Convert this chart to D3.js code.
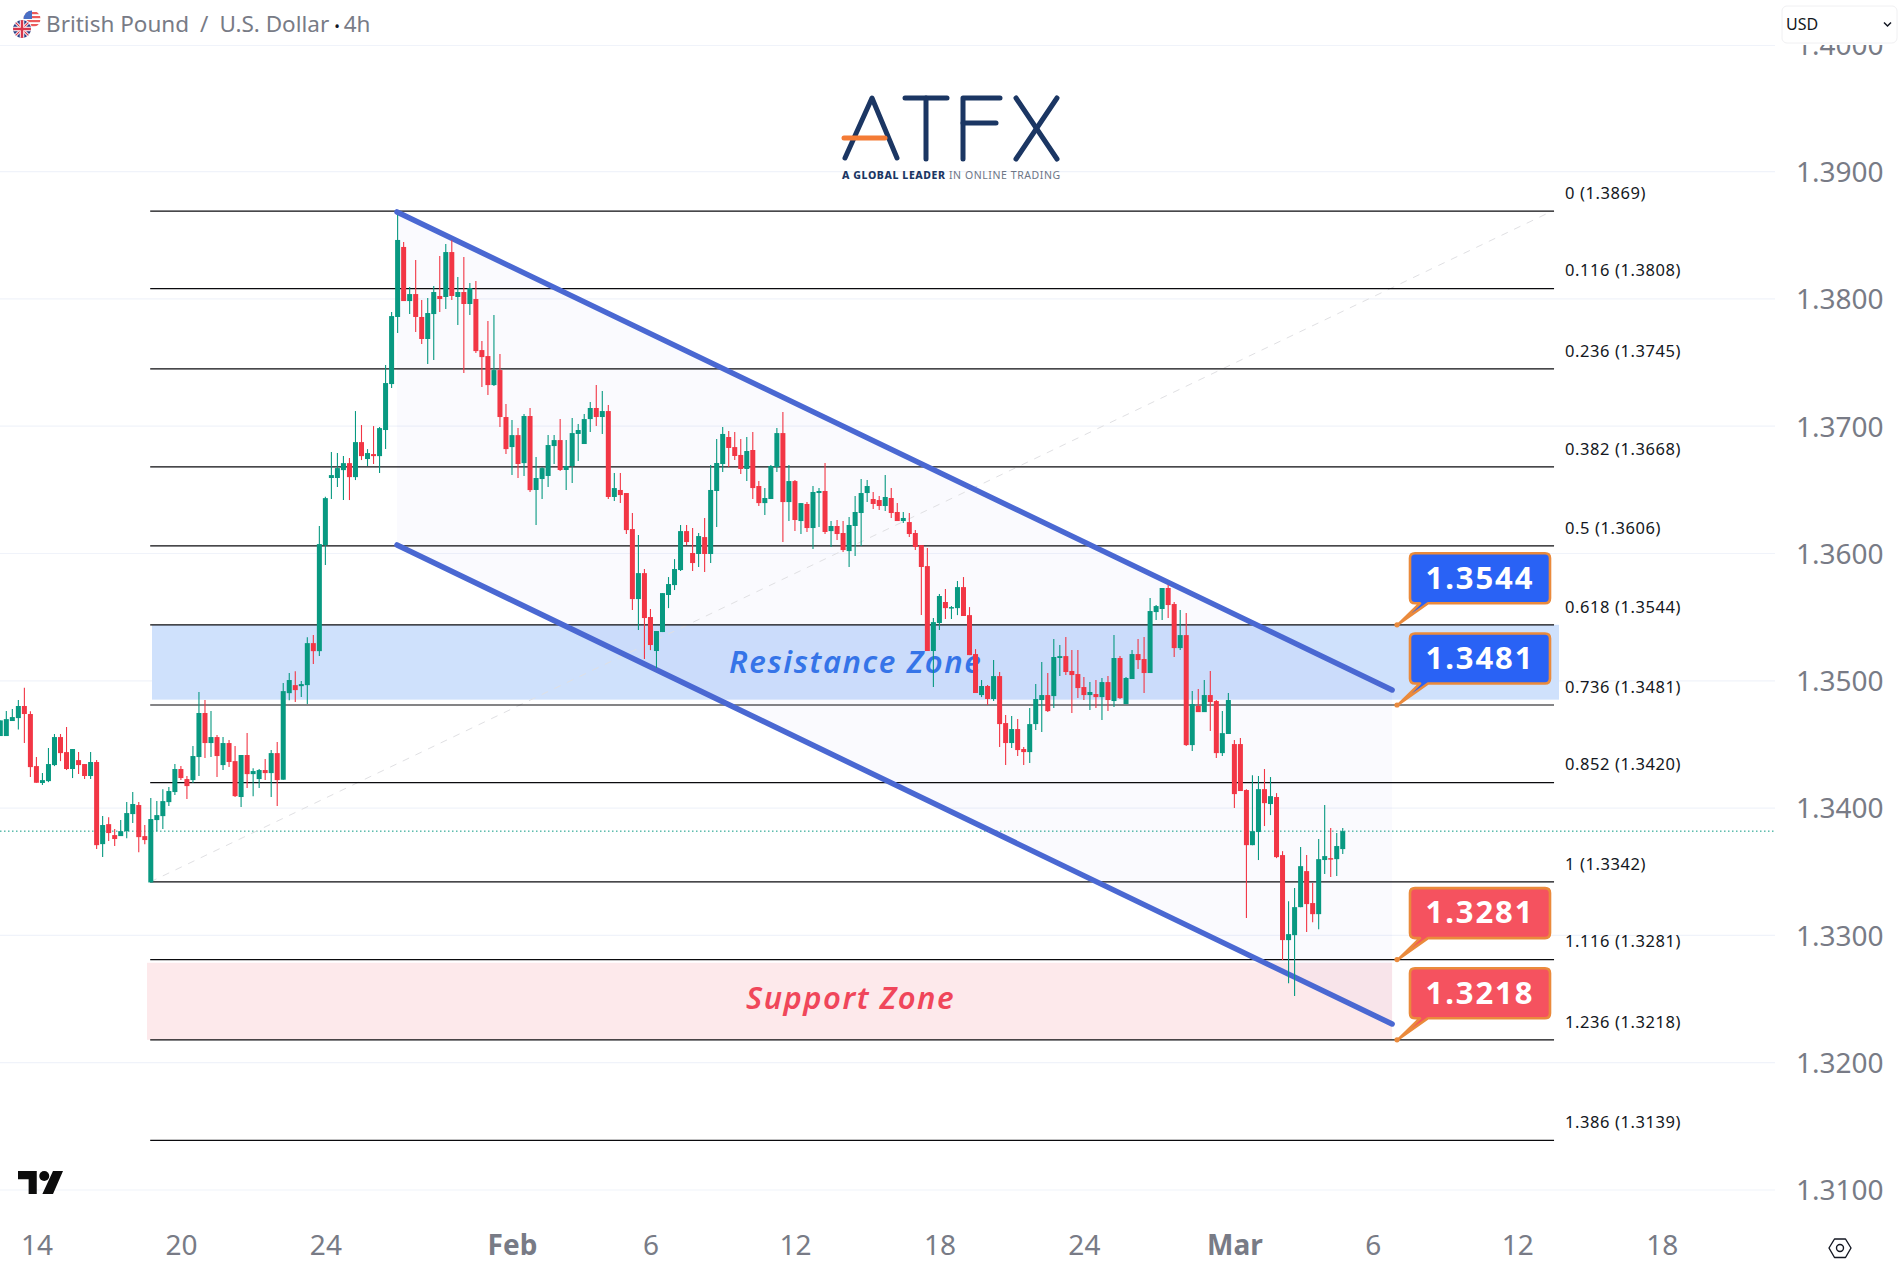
<!DOCTYPE html>
<html><head><meta charset="utf-8">
<style>html,body{margin:0;padding:0;background:#fff;overflow:hidden}svg{display:block}text{font-family:"Noto Sans",sans-serif}</style>
<script src="https://cdn.jsdelivr.net/npm/d3@7"></script>
</head><body>
<script>
const titleParts = ["British Pound","/","U.S. Dollar"];
const interval = "4h";
const opens = [
1.34566,1.34566,1.34684,1.34707,1.34802,1.34739,1.34330,1.34197,1.34212,1.34338,
1.34558,1.34440,1.34307,1.34377,1.34346,1.34252,1.34362,1.33717,1.33874,1.33788,
1.33780,1.33819,1.33953,1.34024,1.33780,1.33416,1.33906,1.33937,1.34047,1.34126,
1.34307,1.34228,1.34220,1.34401,1.34747,1.34511,1.34558,1.34338,1.34511,1.34369,
1.34087,1.34417,1.34267,1.34228,1.34299,1.34275,1.34432,1.34223,1.34903,1.34966,
1.34958,1.34966,1.35296,1.35233,1.36066,1.36593,1.36593,1.36655,1.36710,1.36600,
1.36875,1.36742,1.36781,1.36765,1.36970,1.37331,1.37858,1.38408,1.37983,1.38038,
1.37858,1.37685,1.37881,1.38023,1.38015,1.38368,1.38015,1.38054,1.37960,1.37999,
1.37598,1.37551,1.37323,1.37441,1.37072,1.36836,1.36930,1.36710,1.37080,1.36499,
1.36585,1.36609,1.36844,1.36891,1.36656,1.36687,1.36939,1.36860,1.37056,1.37143,
1.37072,1.37119,1.36444,1.36499,1.36475,1.36192,1.35642,1.35846,1.35501,1.35234,
1.35383,1.35674,1.35752,1.35870,1.36176,1.36004,1.35996,1.36129,1.35996,1.36491,
1.36703,1.36915,1.36836,1.36774,1.36664,1.36813,1.36530,1.36396,1.36428,1.36679,
1.36946,1.36404,1.36569,1.36255,1.36389,1.36200,1.36475,1.36491,1.36176,1.36216,
1.36161,1.36019,1.36216,1.36318,1.36475,1.36428,1.36420,1.36373,1.36436,1.36326,
1.36255,1.36247,1.36161,1.36066,1.35901,1.35234,1.35454,1.35619,1.35571,1.35571,
1.35736,1.35516,1.35210,1.34888,1.34959,1.34857,1.35037,1.34668,1.34511,1.34621,
1.34464,1.34440,1.34660,1.34849,1.34888,1.34880,1.35179,1.35194,1.35077,1.35053,
1.34951,1.34888,1.34896,1.34872,1.34990,1.34841,1.35179,1.34817,1.35014,1.35210,
1.35171,1.35061,1.35540,1.35564,1.35729,1.35603,1.35257,1.35359,1.34495,1.34802,
1.34754,1.34888,1.34841,1.34432,1.34582,1.34503,1.34503,1.34142,1.33709,1.33812,
1.34149,1.34032,1.34087,1.33631,1.32963,1.33002,1.33222,1.33505,1.33254,1.33167,
1.33592,1.33607,1.33599,1.33678];
const highs = [
1.34689,1.34762,1.34778,1.34849,1.34946,1.34760,1.34401,1.34275,1.34472,1.34582,
1.34582,1.34637,1.34464,1.34440,1.34346,1.34440,1.34377,1.33937,1.33929,1.33835,
1.33906,1.34047,1.34126,1.34047,1.33867,1.34079,1.34055,1.34149,1.34165,1.34346,
1.34330,1.34252,1.34487,1.34912,1.34849,1.34762,1.34574,1.34558,1.34534,1.34487,
1.34417,1.34589,1.34314,1.34307,1.34385,1.34456,1.34519,1.34982,1.35061,1.35076,
1.34998,1.35343,1.35359,1.36216,1.36446,1.36797,1.36789,1.36765,1.36750,1.37119,
1.37009,1.36820,1.37001,1.36993,1.37480,1.37897,1.38659,1.38447,1.38093,1.38305,
1.37991,1.38007,1.38101,1.38337,1.38431,1.38460,1.38172,1.38329,1.38125,1.38140,
1.37669,1.37826,1.37873,1.37567,1.37174,1.37048,1.36985,1.37095,1.37143,1.36758,
1.36679,1.36931,1.36931,1.37056,1.36891,1.37064,1.37017,1.37096,1.37190,1.37324,
1.37276,1.37166,1.36632,1.36632,1.36475,1.36318,1.36145,1.35878,1.35564,1.35391,
1.35689,1.35815,1.35956,1.36224,1.36224,1.36200,1.36161,1.36279,1.36695,1.36899,
1.36994,1.36962,1.36954,1.36899,1.36915,1.36954,1.36569,1.36514,1.36695,1.36986,
1.37111,1.36695,1.36577,1.36396,1.36404,1.36530,1.36514,1.36711,1.36255,1.36263,
1.36255,1.36286,1.36451,1.36585,1.36577,1.36483,1.36451,1.36616,1.36514,1.36396,
1.36326,1.36318,1.36184,1.36066,1.36043,1.35493,1.35681,1.35721,1.35587,1.35784,
1.35815,1.35579,1.35249,1.35006,1.34967,1.35163,1.35069,1.34731,1.34723,1.34699,
1.34479,1.34786,1.34974,1.35147,1.35061,1.35328,1.35281,1.35344,1.35242,1.35242,
1.35029,1.34990,1.35006,1.35022,1.35037,1.35359,1.35194,1.35029,1.35242,1.35328,
1.35344,1.35650,1.35595,1.35729,1.35752,1.35619,1.35556,1.35532,1.34919,1.34935,
1.35006,1.35077,1.34849,1.34762,1.34904,1.34534,1.34550,1.34149,1.34259,1.34252,
1.34307,1.34244,1.34118,1.33662,1.33269,1.33372,1.33694,1.33631,1.33411,1.33757,
1.34024,1.33843,1.33804,1.33843];
const lows = [
1.34566,1.34566,1.34684,1.34618,1.34511,1.34244,1.34199,1.34181,1.34204,1.34330,
1.34369,1.34299,1.34236,1.34267,1.34228,1.34228,1.33678,1.33615,1.33741,1.33702,
1.33780,1.33764,1.33882,1.33654,1.33717,1.33416,1.33819,1.33835,1.34016,1.34102,
1.34220,1.34071,1.34197,1.34252,1.34393,1.34401,1.34244,1.34299,1.34322,1.34087,
1.34008,1.34157,1.34094,1.34157,1.34220,1.34087,1.34016,1.34223,1.34848,1.34833,
1.34872,1.34817,1.35131,1.35194,1.35909,1.36428,1.36522,1.36420,1.36420,1.36577,
1.36734,1.36687,1.36703,1.36632,1.36820,1.37300,1.37732,1.37983,1.37881,1.37740,
1.37645,1.37488,1.37520,1.37897,1.37920,1.37991,1.37795,1.37418,1.37873,1.37575,
1.37308,1.37245,1.37315,1.36993,1.36781,1.36616,1.36593,1.36608,1.36483,1.36224,
1.36428,1.36522,1.36703,1.36648,1.36499,1.36554,1.36726,1.36860,1.36954,1.37001,
1.36939,1.36428,1.36412,1.36396,1.36153,1.35556,1.35399,1.35171,1.35241,1.35100,
1.35383,1.35571,1.35713,1.35862,1.36066,1.35862,1.35894,1.35854,1.35925,1.36208,
1.36640,1.36679,1.36734,1.36624,1.36569,1.36428,1.36373,1.36302,1.36428,1.36640,
1.36090,1.36255,1.36176,1.36153,1.36169,1.36035,1.36208,1.36153,1.36051,1.36106,
1.36011,1.35894,1.35980,1.36059,1.36404,1.36349,1.36341,1.36334,1.36279,1.36255,
1.36239,1.36129,1.36027,1.35516,1.35234,1.34951,1.35399,1.35485,1.35485,1.35516,
1.35509,1.35202,1.34904,1.34872,1.34809,1.34841,1.34479,1.34338,1.34472,1.34409,
1.34338,1.34354,1.34613,1.34597,1.34754,1.34786,1.35037,1.35045,1.34747,1.34864,
1.34849,1.34770,1.34786,1.34692,1.34762,1.34794,1.34857,1.34817,1.35014,1.35092,
1.34904,1.35061,1.35477,1.35477,1.35493,1.35187,1.35242,1.34487,1.34448,1.34754,
1.34754,1.34605,1.34393,1.34409,1.34582,1.34000,1.34134,1.33136,1.33709,1.33592,
1.33859,1.33945,1.33607,1.32806,1.32625,1.32523,1.33222,1.33026,1.33104,1.33049,
1.33482,1.33458,1.33466,1.33639];
const closes = [
1.34689,1.34699,1.34715,1.34802,1.34739,1.34322,1.34199,1.34220,1.34346,1.34558,
1.34432,1.34307,1.34464,1.34338,1.34252,1.34362,1.33709,1.33867,1.33804,1.33757,
1.33819,1.33961,1.34032,1.33772,1.33749,1.33914,1.33945,1.34055,1.34134,1.34307,
1.34236,1.34173,1.34409,1.34747,1.34511,1.34558,1.34409,1.34511,1.34362,1.34094,
1.34417,1.34267,1.34291,1.34299,1.34275,1.34432,1.34220,1.34919,1.35006,1.34927,
1.34974,1.35296,1.35233,1.36074,1.36435,1.36616,1.36671,1.36710,1.36600,1.36875,
1.36765,1.36789,1.36765,1.36985,1.37339,1.37865,1.38463,1.37983,1.38038,1.37858,
1.37685,1.37889,1.38054,1.37999,1.38368,1.38023,1.38054,1.37960,1.38085,1.37590,
1.37543,1.37323,1.37441,1.37072,1.36820,1.36930,1.36703,1.37080,1.36498,1.36593,
1.36671,1.36852,1.36891,1.36656,1.36687,1.36946,1.36970,1.37056,1.37143,1.37072,
1.37119,1.36444,1.36514,1.36459,1.36184,1.35642,1.35846,1.35493,1.35281,1.35391,
1.35689,1.35760,1.35878,1.36176,1.36090,1.35925,1.36137,1.35996,1.36499,1.36711,
1.36939,1.36829,1.36766,1.36664,1.36805,1.36514,1.36396,1.36436,1.36687,1.36946,
1.36404,1.36569,1.36263,1.36396,1.36200,1.36483,1.36491,1.36169,1.36216,1.36153,
1.36027,1.36224,1.36326,1.36475,1.36530,1.36389,1.36373,1.36444,1.36318,1.36255,
1.36279,1.36153,1.36051,1.35894,1.35234,1.35461,1.35666,1.35571,1.35579,1.35736,
1.35509,1.35202,1.34904,1.34959,1.34857,1.35037,1.34660,1.34511,1.34621,1.34456,
1.34440,1.34660,1.34857,1.34888,1.34762,1.35187,1.35194,1.35069,1.35045,1.34943,
1.34888,1.34912,1.34872,1.34990,1.34849,1.35179,1.34864,1.35022,1.35210,1.35163,
1.35061,1.35548,1.35587,1.35729,1.35595,1.35257,1.35359,1.34495,1.34817,1.34754,
1.34888,1.34833,1.34432,1.34589,1.34849,1.34110,1.34134,1.33709,1.33819,1.34149,
1.34039,1.34094,1.33615,1.32963,1.33010,1.33222,1.33544,1.33246,1.33167,1.33599,
1.33623,1.33599,1.33702,1.33819];
const lastPrice = 1.33819;
const priceTicks = [1.40,1.39,1.38,1.37,1.36,1.35,1.34,1.33,1.32,1.31];
const timeTickBars = [6,30,54,85,108,132,156,180,205,228,252,276];
const timeTickLabels = ["14","20","24","Feb","6","12","18","24","Mar","6","12","18"];
const fibRatios = ["0","0.116","0.236","0.382","0.5","0.618","0.736","0.852","1","1.116","1.236","1.386"];
const fibPrices = [1.3869,1.3808,1.3745,1.3668,1.3606,1.3544,1.3481,1.3420,1.3342,1.3281,1.3218,1.3139];
const fibTrendBars = [24.9,257.8];
const fibTrendPrices = [1.3342,1.3869];
const fibStartBar = 24.9, fibEndBar = 258.1;
const channelBars = [65.9,231.2];
const channelTop = [1.38683,1.34928];
const channelBottom = [1.36067,1.32304];
const resistanceZone = [1.3544,1.34852];
const supportZone = [1.32785,1.3218];
const calloutPrices = [1.3544,1.3481,1.3281,1.3218];
const calloutKinds = ["r","r","s","s"];

const W=1902,H=1278;
const x=d3.scaleLinear().domain([0,276]).range([0.3,1661.8]);
const y=d3.scaleLinear().domain([1.31,1.40]).range([1190,44.3]);
const svg=d3.select("body").append("svg").attr("width",W).attr("height",H);
svg.append("rect").attr("width",W).attr("height",H).attr("fill","#fff");

// grid
svg.append("g").selectAll("line").data(priceTicks).join("line")
 .attr("x1",0).attr("x2",1775).attr("y1",d=>y(d)).attr("y2",d=>y(d))
 .attr("stroke","#f0f3fa").attr("stroke-width",1.2);

// zones
svg.append("rect").attr("x",152).attr("width",1559-152)
 .attr("y",y(resistanceZone[0])).attr("height",y(resistanceZone[1])-y(resistanceZone[0]))
 .attr("fill","#cfe1fc");
svg.append("rect").attr("x",147).attr("width",x(channelBars[1])-147)
 .attr("y",y(supportZone[0])).attr("height",y(supportZone[1])-y(supportZone[0]))
 .attr("fill","#fde9eb");

// channel fill
svg.append("polygon").attr("points",[
 [x(channelBars[0]),y(channelTop[0])],[x(channelBars[1]),y(channelTop[1])],
 [x(channelBars[1]),y(channelBottom[1])],[x(channelBars[0]),y(channelBottom[0])]
].map(p=>p.join(",")).join(" ")).attr("fill","rgba(70,70,230,0.026)");

// price line
svg.append("line").attr("x1",0).attr("x2",1775).attr("y1",y(lastPrice)).attr("y2",y(lastPrice))
 .attr("stroke","#089981").attr("stroke-width",1).attr("stroke-dasharray","1.5 2.5");

// trend dashed
svg.append("line").attr("x1",x(fibTrendBars[0])).attr("x2",x(fibTrendBars[1]))
 .attr("y1",y(fibTrendPrices[0])).attr("y2",y(fibTrendPrices[1]))
 .attr("stroke","#e0e0e3").attr("stroke-width",1).attr("stroke-dasharray","7 7");

// fib lines
svg.append("g").selectAll("line").data(fibPrices).join("line")
 .attr("x1",x(fibStartBar)).attr("x2",x(fibEndBar)).attr("y1",d=>y(d)).attr("y2",d=>y(d))
 .attr("stroke","#0b0b0e").attr("stroke-width",1.2);
svg.append("g").selectAll("text").data(fibPrices).join("text")
 .attr("x",1565).attr("y",d=>y(d)-18).attr("dy","0.35em")
 .attr("font-size",16.5).attr("letter-spacing",0.58).attr("fill","#131722")
 .text((d,i)=>`${fibRatios[i]} (${d3.format(".4f")(d)})`);

// channel lines
[channelTop,channelBottom].forEach(c=>{
 svg.append("line").attr("x1",x(channelBars[0])).attr("x2",x(channelBars[1]))
  .attr("y1",y(c[0])).attr("y2",y(c[1])).attr("stroke","#4a68d2").attr("stroke-width",5.5).attr("stroke-linecap","round");
});

// zone labels
svg.append("text").attr("x",729).attr("y",672.5).attr("font-size",31).attr("font-style","italic").attr("font-weight",600)
 .attr("letter-spacing",1.6).attr("fill","#3574e8").text("Resistance Zone");
svg.append("text").attr("x",746).attr("y",1009).attr("font-size",31).attr("font-style","italic").attr("font-weight",600)
 .attr("letter-spacing",1.5).attr("fill","#f0465a").text("Support Zone");

// candles
const bars=d3.range(opens.length);
const up=i=>closes[i]>=opens[i];
const col=i=>up(i)?"#089981":"#f23645";
const cg=svg.append("g");
cg.selectAll("line").data(bars).join("line")
 .attr("x1",i=>x(i)).attr("x2",i=>x(i)).attr("y1",i=>y(highs[i])).attr("y2",i=>y(lows[i]))
 .attr("stroke",col).attr("stroke-width",1.1);
cg.selectAll("rect").data(bars).join("rect")
 .attr("x",i=>x(i)-2.5).attr("width",5)
 .attr("y",i=>y(Math.max(opens[i],closes[i])))
 .attr("height",i=>Math.max(1.5,Math.abs(y(opens[i])-y(closes[i]))))
 .attr("fill",col);

// axes
const ya=svg.append("g").attr("transform","translate(1796,0)")
 .call(d3.axisRight(y).tickValues(priceTicks).tickFormat(d3.format(".4f")).tickSize(0).tickPadding(0));
ya.select(".domain").remove();
ya.selectAll("text").attr("font-size",28).attr("fill","#787b86").attr("dy","0.35em").attr("font-family",'"Noto Sans",sans-serif');
const xa=svg.append("g").attr("transform","translate(0,1255)")
 .call(d3.axisBottom(x).tickValues(timeTickBars).tickFormat((d,i)=>timeTickLabels[i]).tickSize(0).tickPadding(0));
xa.select(".domain").remove();
xa.selectAll("text").attr("font-size",28).attr("fill","#787b86").attr("dy","0").attr("font-family",'"Noto Sans",sans-serif')
 .attr("font-weight",(d,i)=>/[A-Z]/.test(timeTickLabels[i])?700:400);

// callouts
const boxX=1410,boxW=140,boxH=50;
const cols={r:"#2962f5",s:"#f5525f"};
calloutPrices.forEach((p,i)=>{
 const py=y(p), t=py-71.5, b=t+boxH, r=5, tipx=1397;
 const d=`M${boxX+r},${t}H${boxX+boxW-r}Q${boxX+boxW},${t} ${boxX+boxW},${t+r}V${b-r}Q${boxX+boxW},${b} ${boxX+boxW-r},${b}H${boxX+18}L${tipx+2},${py-1}L${boxX+10},${b}H${boxX+r}Q${boxX},${b} ${boxX},${b-r}V${t+r}Q${boxX},${t} ${boxX+r},${t}Z`;
 svg.append("path").attr("d",d).attr("fill",cols[calloutKinds[i]]).attr("stroke","#ea8a3c").attr("stroke-width",2.6).attr("stroke-linejoin","round");
 svg.append("circle").attr("cx",tipx).attr("cy",py).attr("r",2.6).attr("fill","#ea8a3c");
 svg.append("text").attr("x",boxX+boxW/2).attr("y",t+boxH/2).attr("dy","0.33em").attr("text-anchor","middle")
  .attr("font-size",31).attr("font-weight",700).attr("letter-spacing",1.9).attr("fill","#fff").text(d3.format(".4f")(p));
});

// logo
const lg=svg.append("g").attr("fill","none").attr("stroke","#1b3663").attr("stroke-width",5).attr("stroke-linecap","round").attr("stroke-linejoin","round");
[["M845,158L872,98L897,158"],["M905,98H947"],["M926,98V159"],["M1000,98H963V159"],["M963,123H996"],["M1016,98L1057,159"],["M1057,98L1016,159"]]
 .forEach(d=>lg.append("path").attr("d",d[0]));
svg.append("path").attr("d","M844,138H885").attr("stroke","#f47b35").attr("stroke-width",5).attr("stroke-linecap","round");
const cap=svg.append("text").attr("x",842).attr("y",179).attr("font-size",10.5).attr("letter-spacing",0.58).attr("fill","#6d7686");
cap.append("tspan").attr("font-weight",800).attr("fill","#1b3663").text("A GLOBAL LEADER ");
cap.append("tspan").text("IN ONLINE TRADING");

// header
svg.append("rect").attr("width",W).attr("height",45).attr("fill","#fff");
svg.append("line").attr("x1",0).attr("x2",1775).attr("y1",45.5).attr("y2",45.5).attr("stroke","#f0f3fa").attr("stroke-width",1.2);
const defs=svg.append("defs");
defs.append("clipPath").attr("id","us").append("circle").attr("cx",32).attr("cy",19).attr("r",8.5);
defs.append("clipPath").attr("id","uk").append("circle").attr("cx",22).attr("cy",29).attr("r",9);
const us=svg.append("g").attr("clip-path","url(#us)");
us.append("rect").attr("x",23).attr("y",10).attr("width",18).attr("height",18).attr("fill","#fff");
[12,16,20,24].forEach(v=>us.append("rect").attr("x",23).attr("y",v).attr("width",18).attr("height",2.2).attr("fill","#ec5a5a"));
us.append("rect").attr("x",23).attr("y",10).attr("width",9).attr("height",9).attr("fill","#4a6fc4");
svg.append("circle").attr("cx",22).attr("cy",29).attr("r",10).attr("fill","#fff");
const uk=svg.append("g").attr("clip-path","url(#uk)");
uk.append("rect").attr("x",13).attr("y",20).attr("width",18).attr("height",18).attr("fill","#2b3f86");
uk.append("path").attr("d","M13,20L31,38M31,20L13,38").attr("stroke","#fff").attr("stroke-width",3);
uk.append("path").attr("d","M13,20L31,38M31,20L13,38").attr("stroke","#d8354a").attr("stroke-width",1.2);
uk.append("path").attr("d","M22,20V38M13,29H31").attr("stroke","#fff").attr("stroke-width",4.5);
uk.append("path").attr("d","M22,20V38M13,29H31").attr("stroke","#d8354a").attr("stroke-width",2.5);
const tt=svg.append("text").attr("x",46).attr("y",32).attr("font-size",22.5).attr("fill","#787b86");
tt.append("tspan").text(titleParts[0]);
tt.append("tspan").attr("dx",11).text(titleParts[1]);
tt.append("tspan").attr("dx",11).text(titleParts[2]);
tt.append("tspan").attr("fill","#131722").attr("font-size",15).attr("dx",1).text(" • ");
tt.append("tspan").text(interval);

// currency select
svg.append("rect").attr("x",1782).attr("y",6).attr("width",115).attr("height",37).attr("rx",5).attr("fill","#fff").attr("stroke","#f0f0f2");
svg.append("text").attr("x",1786).attr("y",30).attr("font-size",16).attr("fill","#131722").text("USD");
svg.append("path").attr("d","M1884,22.5L1887.5,26L1891,22.5").attr("fill","none").attr("stroke","#131722").attr("stroke-width",1.5);

// TV logo
const tv=svg.append("g").attr("transform","translate(18,1166) scale(1.25)").attr("fill","#0c0c0c");
tv.append("path").attr("d","M15,22.4H8.5V10.5H0V4H15V22.4ZM28,22.4H19.5L28,4H36L28,22.4Z");
tv.append("circle").attr("cx",21).attr("cy",8).attr("r",4);

// settings icon
svg.append("polygon").attr("points",[[1829,1248],[1834.5,1239],[1845.5,1239],[1851,1248],[1845.5,1257.5],[1834.5,1257.5]].map(p=>p.join(",")).join(" "))
 .attr("fill","none").attr("stroke","#131722").attr("stroke-width",1.4).attr("stroke-linejoin","round");
svg.append("circle").attr("cx",1840).attr("cy",1248).attr("r",3.5).attr("fill","none").attr("stroke","#131722").attr("stroke-width",1.4);
</script>
</body></html>
